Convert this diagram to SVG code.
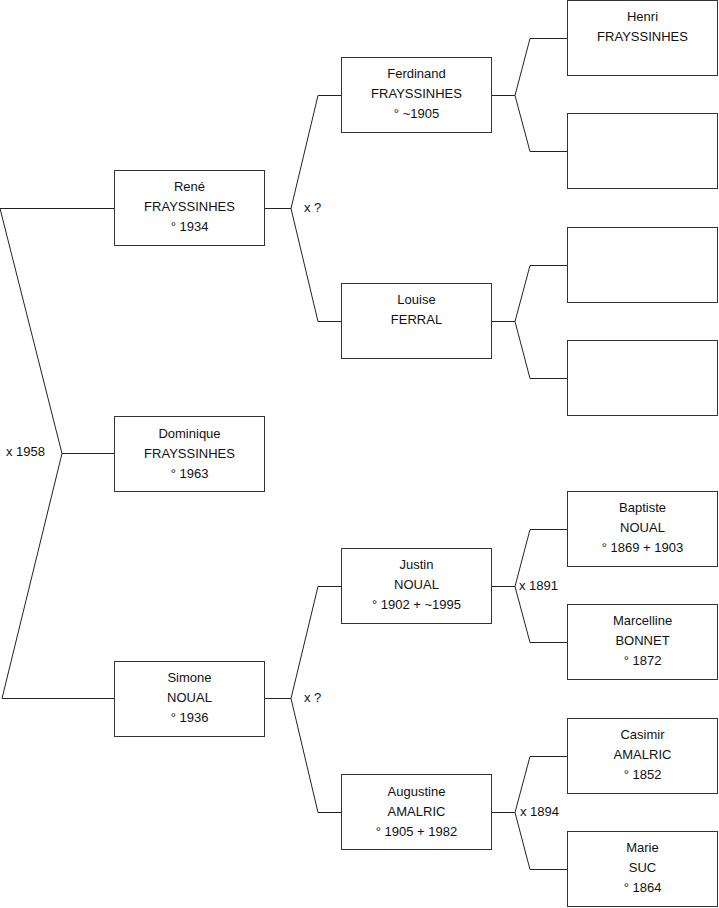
<svg xmlns="http://www.w3.org/2000/svg" width="719" height="908" viewBox="0 0 719 908">
<style>
.box{fill:#fff;stroke:#333;stroke-width:1}
.ln{fill:none;stroke:#222;stroke-width:1}
text{font-family:"Liberation Sans",Arial,sans-serif;font-size:13px;fill:#111}
.c{text-anchor:middle}
</style>
<rect width="719" height="908" fill="#fff"/>
<g id="connectors">
<polyline class="ln" points="114,208.5 0,208.5 62,453.5 2,698.5 114,698.5"/>
<line class="ln" x1="62" y1="453.5" x2="114" y2="453.5"/>
<polyline class="ln" points="341,95.5 318,95.5 291,208.5 318,321.5 341,321.5"/>
<line class="ln" x1="265" y1="208.5" x2="291" y2="208.5"/>
<polyline class="ln" points="341,586.5 318,586.5 291,698.5 318,812.5 341,812.5"/>
<line class="ln" x1="265" y1="698.5" x2="291" y2="698.5"/>
<polyline class="ln" points="567,38.5 530,38.5 515,95.5 530,151.5 567,151.5"/>
<line class="ln" x1="492" y1="95.5" x2="515" y2="95.5"/>
<polyline class="ln" points="567,265.5 530,265.5 515,321.5 530,378.5 567,378.5"/>
<line class="ln" x1="492" y1="321.5" x2="515" y2="321.5"/>
<polyline class="ln" points="567,529.5 530,529.5 515,586.5 530,642.5 567,642.5"/>
<line class="ln" x1="492" y1="586.5" x2="515" y2="586.5"/>
<polyline class="ln" points="567,756.5 530,756.5 515,812.5 530,869.5 567,869.5"/>
<line class="ln" x1="492" y1="812.5" x2="515" y2="812.5"/>
<text x="6" y="456">x 1958</text>
<text x="304" y="212">x ?</text>
<text x="304" y="702">x ?</text>
<text x="519" y="590">x 1891</text>
<text x="520" y="816">x 1894</text>
</g>
<g id="rene"><rect class="box" x="114.5" y="170.5" width="150" height="75"/><text class="c" x="189.5" y="191">René</text><text class="c" x="189.5" y="211">FRAYSSINHES</text><text class="c" x="189.5" y="231">° 1934</text></g>
<g id="dominique"><rect class="box" x="114.5" y="416.5" width="150" height="75"/><text class="c" x="189.5" y="438">Dominique</text><text class="c" x="189.5" y="458">FRAYSSINHES</text><text class="c" x="189.5" y="478">° 1963</text></g>
<g id="simone"><rect class="box" x="114.5" y="661.5" width="150" height="75"/><text class="c" x="189.5" y="682">Simone</text><text class="c" x="189.5" y="702">NOUAL</text><text class="c" x="189.5" y="722">° 1936</text></g>
<g id="ferdinand"><rect class="box" x="341.5" y="57.5" width="150" height="75"/><text class="c" x="416.5" y="78">Ferdinand</text><text class="c" x="416.5" y="98">FRAYSSINHES</text><text class="c" x="416.5" y="118">° ~1905</text></g>
<g id="louise"><rect class="box" x="341.5" y="283.5" width="150" height="75"/><text class="c" x="416.5" y="304">Louise</text><text class="c" x="416.5" y="324">FERRAL</text></g>
<g id="justin"><rect class="box" x="341.5" y="548.5" width="150" height="75"/><text class="c" x="416.5" y="569">Justin</text><text class="c" x="416.5" y="589">NOUAL</text><text class="c" x="416.5" y="609">° 1902 + ~1995</text></g>
<g id="augustine"><rect class="box" x="341.5" y="774.5" width="150" height="75"/><text class="c" x="416.5" y="796">Augustine</text><text class="c" x="416.5" y="816">AMALRIC</text><text class="c" x="416.5" y="836">° 1905 + 1982</text></g>
<g id="henri"><rect class="box" x="567.5" y="0.5" width="150" height="75"/><text class="c" x="642.5" y="21">Henri</text><text class="c" x="642.5" y="41">FRAYSSINHES</text></g>
<g id="unknown1"><rect class="box" x="567.5" y="113.5" width="150" height="75"/></g>
<g id="unknown2"><rect class="box" x="567.5" y="227.5" width="150" height="75"/></g>
<g id="unknown3"><rect class="box" x="567.5" y="340.5" width="150" height="75"/></g>
<g id="baptiste"><rect class="box" x="567.5" y="491.5" width="150" height="75"/><text class="c" x="642.5" y="512">Baptiste</text><text class="c" x="642.5" y="532">NOUAL</text><text class="c" x="642.5" y="552">° 1869 + 1903</text></g>
<g id="marcelline"><rect class="box" x="567.5" y="604.5" width="150" height="75"/><text class="c" x="642.5" y="625">Marcelline</text><text class="c" x="642.5" y="645">BONNET</text><text class="c" x="642.5" y="665">° 1872</text></g>
<g id="casimir"><rect class="box" x="567.5" y="718.5" width="150" height="75"/><text class="c" x="642.5" y="739">Casimir</text><text class="c" x="642.5" y="759">AMALRIC</text><text class="c" x="642.5" y="779">° 1852</text></g>
<g id="marie"><rect class="box" x="567.5" y="831.5" width="150" height="75"/><text class="c" x="642.5" y="852">Marie</text><text class="c" x="642.5" y="872">SUC</text><text class="c" x="642.5" y="892">° 1864</text></g>
</svg>
